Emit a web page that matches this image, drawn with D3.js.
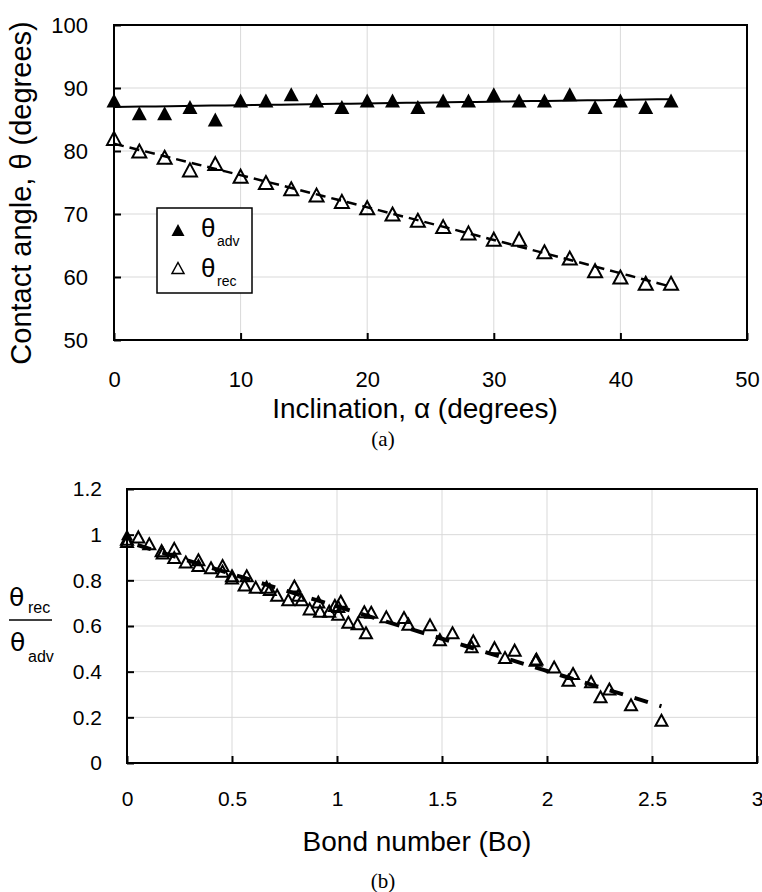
<!DOCTYPE html>
<html>
<head>
<meta charset="utf-8">
<script src="https://cdn.jsdelivr.net/npm/d3@7"></script>
<style>
  body { margin: 0; background: #fff; }
  svg { display: block; }
</style>
</head>
<body>
<div id="d1"></div>
<script>
// (a) contact angle vs inclination
const inclination = [0, 2, 4, 6, 8, 10, 12, 14, 16, 18, 20, 22, 24, 26, 28, 30, 32, 34, 36, 38, 40, 42, 44];
const thetaAdv = [88, 86, 86, 87, 85, 88, 88, 89, 88, 87, 88, 88, 87, 88, 88, 89, 88, 88, 89, 87, 88, 87, 88];
const thetaRec = [82, 80, 79, 77, 78, 76, 75, 74, 73, 72, 71, 70, 69, 68, 67, 66, 66, 64, 63, 61, 60, 59, 59];
const xTicksA = [0, 10, 20, 30, 40, 50];
const yTicksA = [50, 60, 70, 80, 90, 100];

// (b) ratio vs Bond number
const bondNumber = [0, 0, 0.054, 0.106, 0.165, 0.17, 0.225, 0.225, 0.28, 0.34, 0.34, 0.40, 0.455, 0.455, 0.50, 0.50,
  0.57, 0.56, 0.613, 0.665, 0.68, 0.715, 0.768, 0.797, 0.816, 0.832, 0.87, 0.911, 0.919, 0.963, 0.99, 1.006,
  1.018, 1.006, 1.054, 1.098, 1.138, 1.13, 1.163, 1.235, 1.319, 1.34, 1.443, 1.49, 1.55, 1.649, 1.641, 1.75,
  1.8, 1.846, 1.946, 1.95, 2.034, 2.124, 2.102, 2.21, 2.297, 2.255, 2.4, 2.545];
const angleRatio = [0.98, 0.97, 0.99, 0.96, 0.93, 0.92, 0.94, 0.90, 0.88, 0.89, 0.865, 0.855, 0.865, 0.84, 0.82, 0.81,
  0.82, 0.78, 0.77, 0.77, 0.76, 0.735, 0.715, 0.775, 0.735, 0.715, 0.675, 0.705, 0.665, 0.665, 0.69, 0.685,
  0.708, 0.652, 0.616, 0.61, 0.57, 0.662, 0.66, 0.64, 0.637, 0.608, 0.605, 0.54, 0.57, 0.535, 0.509, 0.505,
  0.462, 0.494, 0.45, 0.455, 0.42, 0.392, 0.362, 0.356, 0.324, 0.29, 0.255, 0.187];
const bondFilled = [0];
const ratioFilled = [1.0];
const xTicksB = [0, 0.5, 1, 1.5, 2, 2.5, 3];
const yTicksB = [0, 0.2, 0.4, 0.6, 0.8, 1, 1.2];

const width = 762, height = 892;
const sans = "'Liberation Sans', Arial, sans-serif";
const serif = "'Liberation Serif', 'Times New Roman', serif";

// least squares fits, like the spreadsheet trendlines
function linFit(xs, ys) {
    const n = xs.length, mx = d3.mean(xs), my = d3.mean(ys);
    let sxy = 0, sxx = 0;
    for (let i = 0; i < n; i++) { sxy += (xs[i] - mx) * (ys[i] - my); sxx += (xs[i] - mx) ** 2; }
    const b = sxy / sxx, a = my - b * mx;
    return x => a + b * x;
}
function quadFit(xs, ys) {
    const s = k => d3.sum(xs, x => x ** k);
    const t = k => d3.sum(xs, (x, i) => x ** k * ys[i]);
    const m = [[s(0), s(1), s(2), t(0)], [s(1), s(2), s(3), t(1)], [s(2), s(3), s(4), t(2)]];
    for (let i = 0; i < 3; i++) {
        for (let j = i + 1; j < 3; j++) {
            const f = m[j][i] / m[i][i];
            for (let k = i; k < 4; k++) m[j][k] -= f * m[i][k];
        }
    }
    const c = [0, 0, 0];
    for (let i = 2; i >= 0; i--) {
        let v = m[i][3];
        for (let k = i + 1; k < 3; k++) v -= m[i][k] * c[k];
        c[i] = v / m[i][i];
    }
    return x => c[0] + c[1] * x + c[2] * x * x;
}

const tri = (w, h) => `M0,${-h / 2}L${w / 2},${h / 2}L${-w / 2},${h / 2}Z`;

const svg = d3.select("#d1")
    .append("svg")
    .attr("width", width)
    .attr("height", height)
    .attr("viewBox", [0, 0, width, height]);

function panel(box, xDom, yDom, xTicks, yTicks, fmtX, fmtY, opt) {
    const x = d3.scaleLinear().domain(xDom).range([box.left, box.right]);
    const y = d3.scaleLinear().domain(yDom).range([box.bottom, box.top]);
    const g = svg.append("g");

    // grid
    g.append("g")
        .attr("stroke", "#d9d9d9")
        .attr("stroke-width", 1)
        .call(g => g.selectAll(".gx").data(xTicks.slice(1, -1)).join("line")
            .attr("class", "gx")
            .attr("x1", d => x(d)).attr("x2", d => x(d))
            .attr("y1", box.top).attr("y2", box.bottom))
        .call(g => g.selectAll(".gy").data(yTicks.slice(1, -1)).join("line")
            .attr("class", "gy")
            .attr("x1", box.left).attr("x2", box.right)
            .attr("y1", d => y(d)).attr("y2", d => y(d)));

    // frame
    g.append("rect")
        .attr("x", box.left).attr("y", box.top)
        .attr("width", box.right - box.left).attr("height", box.bottom - box.top)
        .attr("fill", "none").attr("stroke", "black").attr("stroke-width", 2);

    const xAxis = g => g
        .attr("transform", `translate(0,${box.bottom})`)
        .call(d3.axisBottom(x).tickValues(xTicks).tickFormat(fmtX).tickSizeInner(-7).tickSizeOuter(0).tickPadding(opt.padX))
        .call(g => g.select(".domain").remove())
        .call(g => g.selectAll(".tick line").attr("stroke-width", 2))
        .call(g => g.selectAll(".tick text").attr("font-family", sans).attr("font-size", opt.tickSize).attr("fill", "black"));

    const yAxis = g => g
        .attr("transform", `translate(${box.left},0)`)
        .call(d3.axisLeft(y).tickValues(yTicks).tickFormat(fmtY).tickSizeInner(-7).tickSizeOuter(0).tickPadding(opt.padY))
        .call(g => g.select(".domain").remove())
        .call(g => g.selectAll(".tick line").attr("stroke-width", 2))
        .call(g => g.selectAll(".tick text").attr("font-family", sans).attr("font-size", opt.tickSize).attr("fill", "black"));

    g.append("g").call(xAxis);
    g.append("g").call(yAxis);
    return { x, y, g };
}

const fitLine = (f, x, y, x0, x1) => d3.line()(d3.range(0, 41).map(i => {
    const v = x0 + (x1 - x0) * i / 40;
    return [x(v), y(f(v))];
}));

// ---------- (a) ----------
const A = panel({ left: 114, right: 747, top: 25, bottom: 340 }, [0, 50], [50, 100],
    xTicksA, yTicksA, d3.format("d"), d3.format("d"), { padX: 31, padY: 26, tickSize: 22 });

const advPts = inclination.map((d, i) => ({ x: d, y: thetaAdv[i] }));
const recPts = inclination.map((d, i) => ({ x: d, y: thetaRec[i] }));

A.g.append("g")
    .selectAll("path")
    .data(advPts)
    .join("path")
    .attr("transform", d => `translate(${A.x(d.x)},${A.y(d.y)})`)
    .attr("d", tri(15, 14))
    .attr("fill", "black");

A.g.append("g")
    .selectAll("path")
    .data(recPts)
    .join("path")
    .attr("transform", d => `translate(${A.x(d.x)},${A.y(d.y)})`)
    .attr("d", tri(14, 13))
    .attr("fill", "none")
    .attr("stroke", "black")
    .attr("stroke-width", 2);

const advFit = linFit(inclination, thetaAdv);
const recFit = quadFit(inclination, thetaRec);
const xEndA = d3.max(inclination);

A.g.append("path")
    .attr("d", fitLine(advFit, A.x, A.y, 0, xEndA))
    .attr("fill", "none").attr("stroke", "black").attr("stroke-width", 2);

A.g.append("path")
    .attr("d", fitLine(recFit, A.x, A.y, 0, xEndA))
    .attr("fill", "none").attr("stroke", "black").attr("stroke-width", 2.5)
    .attr("stroke-dasharray", "10,6");

// legend
const leg = A.g.append("g");
leg.append("rect")
    .attr("x", 157).attr("y", 208).attr("width", 95).attr("height", 85)
    .attr("fill", "white").attr("stroke", "black").attr("stroke-width", 1.5);
leg.append("path").attr("transform", "translate(178,230)").attr("d", tri(13, 12)).attr("fill", "black");
leg.append("path").attr("transform", "translate(178,268)").attr("d", tri(12, 11))
    .attr("fill", "none").attr("stroke", "black").attr("stroke-width", 1.5);
const legText = [{ y: 237, sub: "adv" }, { y: 277, sub: "rec" }];
legText.forEach(d => {
    leg.append("text").attr("x", 201).attr("y", d.y)
        .attr("font-family", sans).attr("font-size", 26).text("θ");
    leg.append("text").attr("x", 217).attr("y", d.y + 9)
        .attr("font-family", sans).attr("font-size", 14).text(d.sub);
});

svg.append("text")
    .attr("transform", "translate(31,193) rotate(-90)")
    .attr("text-anchor", "middle")
    .attr("font-family", sans).attr("font-size", 29)
    .text("Contact angle, θ (degrees)");

svg.append("text")
    .attr("x", 415).attr("y", 418)
    .attr("text-anchor", "middle")
    .attr("font-family", sans).attr("font-size", 28)
    .text("Inclination, α (degrees)");

svg.append("text")
    .attr("x", 383).attr("y", 446)
    .attr("text-anchor", "middle")
    .attr("font-family", serif).attr("font-size", 21)
    .text("(a)");

// ---------- (b) ----------
const B = panel({ left: 127, right: 757, top: 489, bottom: 763 }, [0, 3], [0, 1.2],
    xTicksB, yTicksB, d3.format(""), d3.format(""), { padX: 28, padY: 25, tickSize: 21 });

B.g.append("g")
    .selectAll("path")
    .data(bondNumber.map((d, i) => ({ x: d, y: angleRatio[i] })))
    .join("path")
    .attr("transform", d => `translate(${B.x(d.x)},${B.y(d.y)})`)
    .attr("d", tri(12, 11))
    .attr("fill", "none")
    .attr("stroke", "black")
    .attr("stroke-width", 2);

B.g.append("g")
    .selectAll("path")
    .data(bondFilled.map((d, i) => ({ x: d, y: ratioFilled[i] })))
    .join("path")
    .attr("transform", d => `translate(${B.x(d.x)},${B.y(d.y)})`)
    .attr("d", tri(12, 11))
    .attr("fill", "black");

const allBo = bondNumber.concat(bondFilled);
const allRatio = angleRatio.concat(ratioFilled);
const boFit = linFit(allBo, allRatio);
B.g.append("path")
    .attr("d", fitLine(boFit, B.x, B.y, 0.05, d3.max(allBo)))
    .attr("fill", "none").attr("stroke", "black").attr("stroke-width", 4)
    .attr("stroke-dasharray", "14,12");

// y label as a fraction
const frac = svg.append("g").attr("font-family", sans);
frac.append("text").attr("x", 9).attr("y", 606).attr("font-family", "'DejaVu Sans', sans-serif").attr("font-size", 25).text("θ");
frac.append("text").attr("x", 28).attr("y", 613).attr("font-size", 16).text("rec");
frac.append("line").attr("x1", 9).attr("x2", 52).attr("y1", 620).attr("y2", 620)
    .attr("stroke", "black").attr("stroke-width", 1.5);
frac.append("text").attr("x", 10).attr("y", 651).attr("font-family", "'DejaVu Sans', sans-serif").attr("font-size", 25).text("θ");
frac.append("text").attr("x", 28).attr("y", 662).attr("font-size", 16).text("adv");

svg.append("text")
    .attr("x", 417).attr("y", 851)
    .attr("text-anchor", "middle")
    .attr("font-family", sans).attr("font-size", 28)
    .text("Bond number (Bo)");

svg.append("text")
    .attr("x", 383).attr("y", 888)
    .attr("text-anchor", "middle")
    .attr("font-family", serif).attr("font-size", 21)
    .text("(b)");
</script>
</body>
</html>
